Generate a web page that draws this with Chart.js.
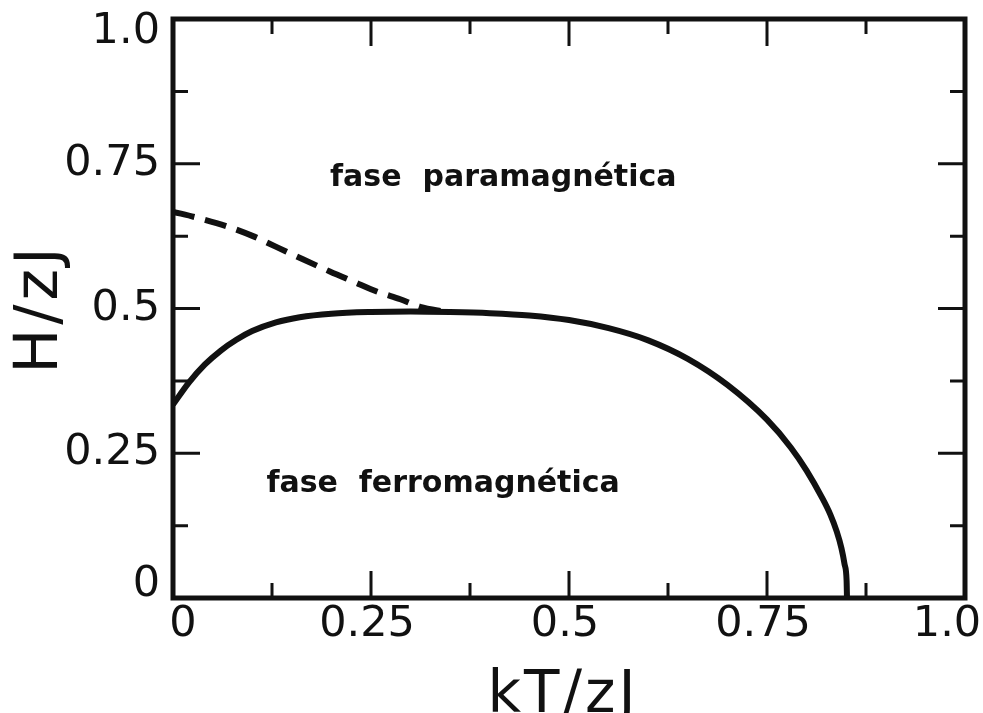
<!DOCTYPE html>
<html>
<head>
<meta charset="utf-8">
<script src="https://cdn.jsdelivr.net/npm/chart.js@4"></script>
<style>
  html, body { margin: 0; padding: 0; background: #fff; }
  canvas { display: block; }
</style>
</head>
<body>
<canvas id="c" width="983" height="713"></canvas>
<script>
// Ferromagnetic phase boundary (solid curve)
const ferroT = [0, 0.02, 0.04, 0.06, 0.08, 0.10, 0.13, 0.16, 0.20, 0.25, 0.30, 0.35, 0.40, 0.45, 0.50, 0.55, 0.60, 0.65, 0.70, 0.75, 0.78, 0.80, 0.82, 0.83, 0.838, 0.844, 0.848, 0.8505, 0.851];
const ferroH = [0.334, 0.372, 0.403, 0.427, 0.446, 0.461, 0.476, 0.485, 0.491, 0.494, 0.495, 0.494, 0.492, 0.488, 0.480, 0.466, 0.445, 0.413, 0.368, 0.308, 0.260, 0.220, 0.172, 0.144, 0.115, 0.086, 0.058, 0.030, 0];

// Metastability limit (dashed curve)
const metaT = [0, 0.03, 0.068, 0.101, 0.131, 0.164, 0.198, 0.227, 0.258, 0.287, 0.312, 0.345];
const metaH = [0.667, 0.657, 0.642, 0.625, 0.606, 0.585, 0.564, 0.547, 0.529, 0.516, 0.503, 0.494];

// Axis ticks
const majorTicks = [0, 0.25, 0.5, 0.75, 1.0];
const minorTicks = [0.125, 0.375, 0.625, 0.875];
const xTickLabels = ['0', '0.25', '0.5', '0.75', '1.0'];
const yTickLabels = ['0', '0.25', '0.5', '0.75', '1.0'];

const xTitle = 'kT/zJ';
const yTitle = 'H/zJ';
const paraLabel = 'fase  paramagnética';
const ferroLabel = 'fase  ferromagnética';

const INK = '#111';

function pairs(xs, ys) { return xs.map((x, i) => ({ x, y: ys[i] })); }

// Frame, inward ticks, tick labels, axis titles and region labels
const framePlugin = {
  id: 'framePlugin',
  afterDatasetsDraw(chart) {
    const { ctx, chartArea: a, scales: { x, y } } = chart;
    ctx.save();
    ctx.strokeStyle = INK;
    ctx.fillStyle = INK;

    // ticks on all four sides, pointing inward
    ctx.lineWidth = 3;
    ctx.lineCap = 'butt';
    const tick = (v, len) => {
      const px = x.getPixelForValue(v), py = y.getPixelForValue(v);
      ctx.beginPath();
      ctx.moveTo(px, a.bottom); ctx.lineTo(px, a.bottom - len);
      ctx.moveTo(px, a.top); ctx.lineTo(px, a.top + len);
      ctx.moveTo(a.left, py); ctx.lineTo(a.left + len, py);
      ctx.moveTo(a.right, py); ctx.lineTo(a.right - len, py);
      ctx.stroke();
    };
    majorTicks.forEach(v => tick(v, 27));
    minorTicks.forEach(v => tick(v, 15));

    // frame
    ctx.lineWidth = 5;
    ctx.lineJoin = 'miter';
    ctx.strokeRect(a.left, a.top, a.right - a.left, a.bottom - a.top);

    // tick labels
    ctx.font = '43px "DejaVu Sans"';
    ctx.textBaseline = 'middle';
    ctx.textAlign = 'right';
    const last = majorTicks.length - 1;
    majorTicks.forEach((v, i) => {
      let py = y.getPixelForValue(v);
      if (i === 0) py -= 13;
      if (i === last) py += 13;
      ctx.fillText(yTickLabels[i], a.left - 13, py);
    });
    ctx.textAlign = 'center';
    majorTicks.forEach((v, i) => {
      let px = x.getPixelForValue(v);
      if (i === 0) px += 10;
      else if (i === last) px -= 18;
      else px -= 4;
      ctx.fillText(xTickLabels[i], px, a.bottom + 27);
    });

    // axis titles
    ctx.font = '58px "DejaVu Sans"';
    ctx.textBaseline = 'alphabetic';
    ctx.letterSpacing = '3px';
    ctx.fillText(xTitle, (a.left + a.right) / 2 - 6, a.bottom + 114);
    ctx.save();
    ctx.font = '60px "DejaVu Sans"';
    ctx.letterSpacing = '4px';
    ctx.translate(57, (a.top + a.bottom) / 2);
    ctx.rotate(-Math.PI / 2);
    ctx.fillText(yTitle, 0, 0);
    ctx.restore();
    ctx.letterSpacing = '0px';

    // phase labels
    ctx.font = 'bold 30px "DejaVu Sans"';
    ctx.textAlign = 'center';
    ctx.fillText(paraLabel, x.getPixelForValue(0.417), y.getPixelForValue(0.711));
    ctx.fillText(ferroLabel, x.getPixelForValue(0.341), y.getPixelForValue(0.183));
    ctx.restore();
  }
};

new Chart(document.getElementById('c'), {
  type: 'line',
  data: {
    datasets: [
      {
        label: 'ferro',
        data: pairs(ferroT, ferroH),
        borderColor: INK,
        borderWidth: 6,
        pointRadius: 0,
        cubicInterpolationMode: 'monotone',
        fill: false
      },
      {
        label: 'meta',
        data: pairs(metaT, metaH),
        borderColor: INK,
        borderWidth: 6,
        borderDash: [22, 11],
        pointRadius: 0,
        cubicInterpolationMode: 'monotone',
        fill: false
      }
    ]
  },
  options: {
    responsive: false,
    animation: false,
    devicePixelRatio: 1,
    layout: { padding: { left: 173, right: 18, top: 19, bottom: 115 } },
    plugins: { legend: { display: false }, tooltip: { enabled: false } },
    scales: {
      x: { type: 'linear', min: 0, max: 1, display: false },
      y: { type: 'linear', min: 0, max: 1, display: false }
    }
  },
  plugins: [framePlugin]
});
</script>
</body>
</html>
